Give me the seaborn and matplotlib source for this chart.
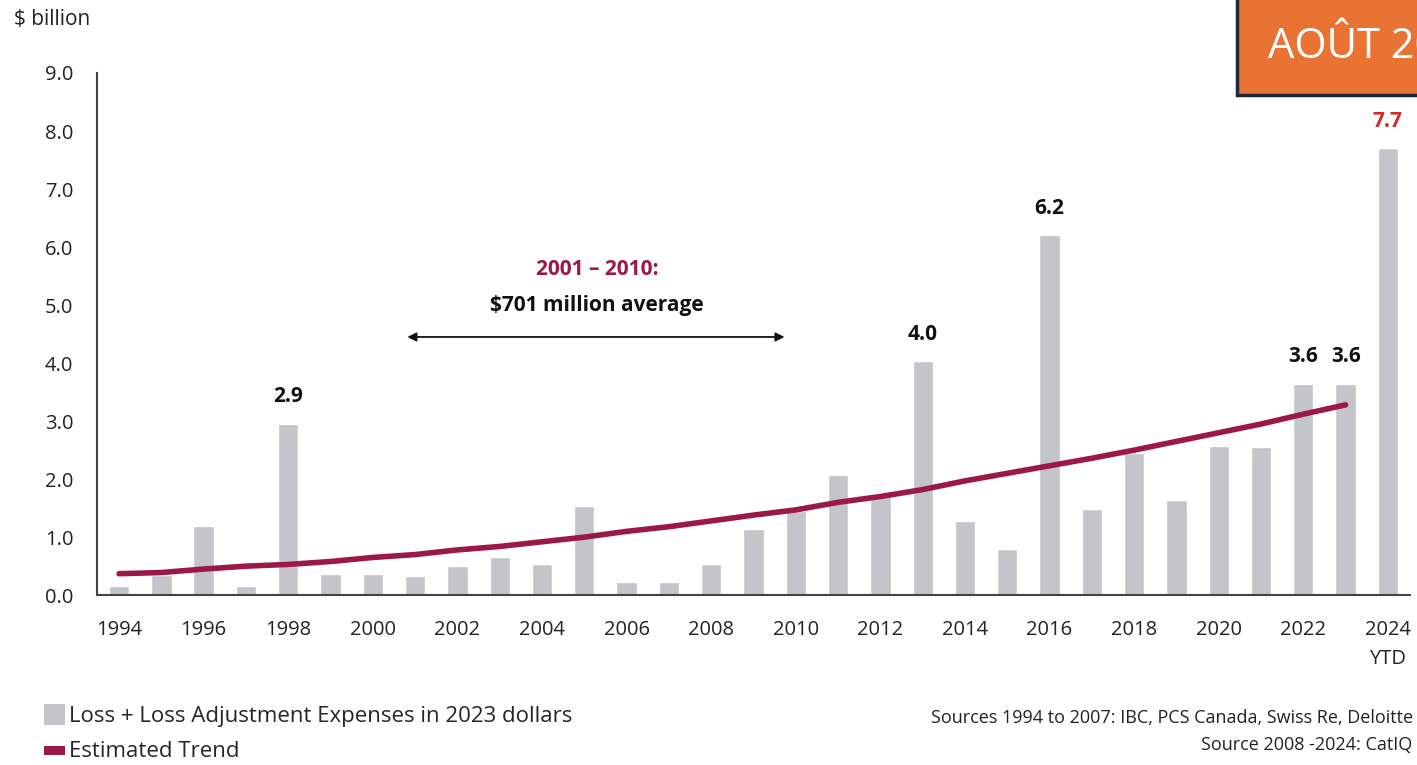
import numpy as np
import pandas as pd
import matplotlib
matplotlib.use("Agg")
import matplotlib.pyplot as plt
import seaborn as sns
from matplotlib.patches import Patch, Rectangle

# values ($ billion, 2023 dollars)
years = list(range(1994, 2025))
losses = [0.15, 0.35, 1.2, 0.15, 2.95, 0.36, 0.36, 0.33, 0.5, 0.66, 0.53, 1.53,
          0.23, 0.23, 0.53, 1.14, 1.45, 2.07, 1.75, 4.03, 1.28, 0.8, 6.2, 1.48,
          2.45, 1.64, 2.57, 2.55, 3.64, 3.64, 7.7]
trend_years = list(range(1994, 2024))
trend = [0.37, 0.39, 0.45, 0.5, 0.53, 0.58, 0.65, 0.7, 0.78, 0.84, 0.92, 1.0,
         1.1, 1.18, 1.28, 1.38, 1.47, 1.6, 1.7, 1.82, 1.97, 2.1, 2.23, 2.36,
         2.5, 2.65, 2.8, 2.95, 3.12, 3.28]
label_years = [1998, 2013, 2016, 2022, 2023, 2024]
label_texts = ["2.9", "4.0", "6.2", "3.6", "3.6", "7.7"]

BAR = "#C4C5CA"
MAROON = "#9C1846"

sns.set_theme(style="white")
plt.rcParams["font.family"] = ["Open Sans", "DejaVu Sans"]

df = pd.DataFrame({"year": years, "loss": losses})
tdf = pd.DataFrame({"year": trend_years, "trend": trend})

fig = plt.figure(figsize=(14.17, 7.65), dpi=100)
ax = fig.add_axes([0.0685, 0.222, 0.9265, 0.6826])

sns.barplot(data=df, x="year", y="loss", native_scale=True, color=BAR,
            width=0.48, saturation=1, ax=ax)
sns.lineplot(data=tdf, x="year", y="trend", color=MAROON, linewidth=4,
             solid_capstyle="round", ax=ax)

ax.set_xlim(1993.48, 2024.52)
ax.set_ylim(0, 9.0)
yt = np.arange(0, 9.5, 1.0)
ax.set_yticks(yt)
ax.set_yticklabels([f"{v:.1f}" for v in yt], fontsize=14.5)
xt = list(range(1994, 2025, 2))
ax.set_xticks(xt)
ax.set_xticklabels([str(y) if y != 2024 else "2024\nYTD" for y in xt],
                   fontsize=14.5, va="top", linespacing=1.6)
ax.set_xlabel("")
ax.set_ylabel("")
ax.tick_params(axis="x", length=0, pad=18, colors="#222222")
ax.tick_params(axis="y", length=0, pad=17, colors="#222222")
for s in ["top", "right"]:
    ax.spines[s].set_visible(False)
for s in ["left", "bottom"]:
    ax.spines[s].set_color("#444444")
    ax.spines[s].set_linewidth(1.5)

# value labels
for yr, txt in zip(label_years, label_texts):
    v = losses[years.index(yr)]
    ax.text(yr, v + 0.47, txt, ha="center", va="center", fontsize=15,
            fontweight="bold", color="#D42A2A" if yr == 2024 else "#111111")

# average annotation
ax.annotate("", xy=(2000.75, 4.45), xytext=(2009.8, 4.45),
            arrowprops=dict(arrowstyle="<|-|>", color="#111111", lw=1.3,
                            mutation_scale=13))
ax.text(2005.3, 5.62, "2001 \u2013 2010:", ha="center", va="center",
        fontsize=15, fontweight="bold", color=MAROON)
ax.text(2005.3, 5.0, "$701 million average", ha="center", va="center",
        fontsize=15, fontweight="bold", color="#111111")

fig.text(0.010, 0.974, "$ billion", ha="left", va="center", fontsize=15,
         color="#222222")

# orange date badge (cut off at the right edge, as in the source)
badge = Rectangle((0.873, 0.876), 0.2, 0.15, transform=fig.transFigure,
                  facecolor="#E87333", edgecolor="#1E2A38", linewidth=2.5,
                  clip_on=False)
fig.add_artist(badge)
fig.text(0.895, 0.938, "AO\u00dbT 2024", ha="left", va="center", fontsize=30,
         color="white")

handles = [Patch(facecolor=BAR, edgecolor="none"),
           Patch(facecolor=MAROON, edgecolor="none")]
leg = fig.legend(handles, ["Loss + Loss Adjustment Expenses in 2023 dollars",
                           "Estimated Trend"],
                 loc="lower left", bbox_to_anchor=(0.031, 0.004), frameon=False,
                 fontsize=16, handlelength=0.95, handleheight=1.05,
                 handletextpad=0.2, labelspacing=0.55, borderpad=0,
                 borderaxespad=0)
h2 = leg.legend_handles[1]
h2.set_y(h2.get_y() + 3)
h2.set_height(6.5)

fig.text(0.997, 0.061, "Sources 1994 to 2007: IBC, PCS Canada, Swiss Re, Deloitte",
         ha="right", va="center", fontsize=13, color="#222222")
fig.text(0.997, 0.026, "Source 2008 -2024: CatIQ", ha="right", va="center",
         fontsize=13, color="#222222")

fig.savefig("out.png", dpi=100)
